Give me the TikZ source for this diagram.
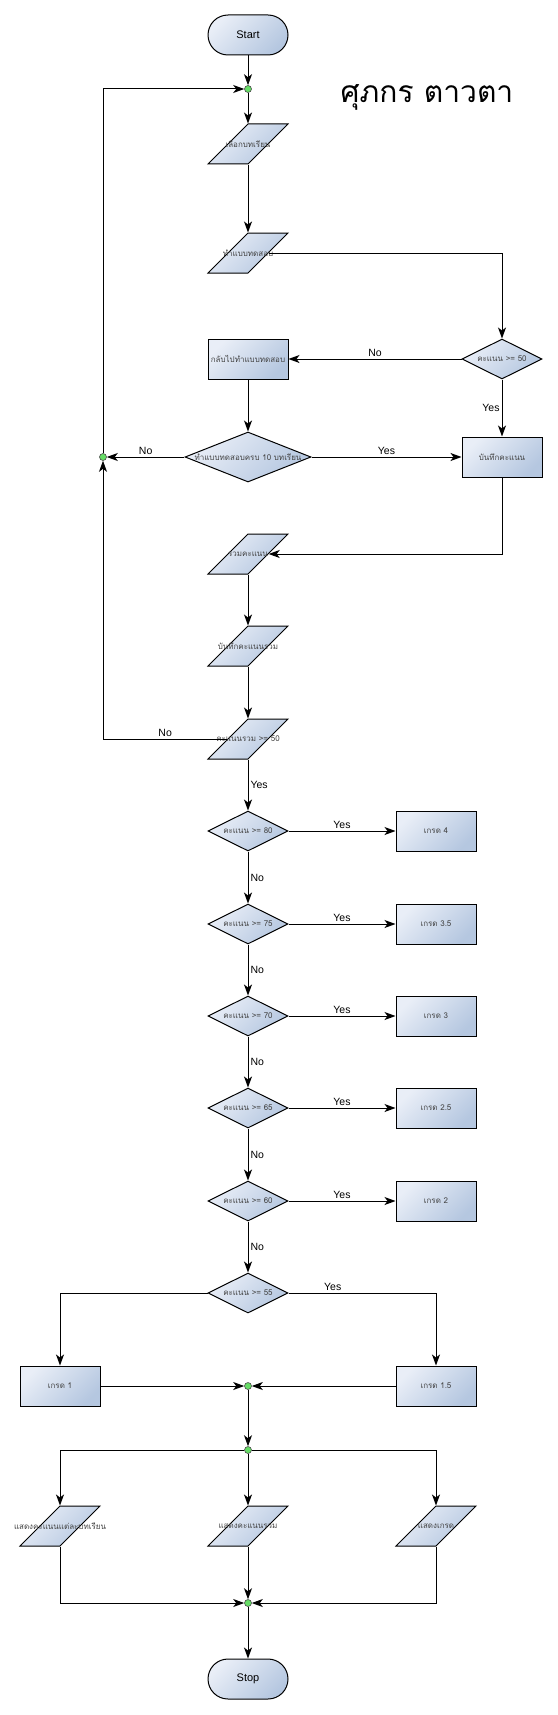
\documentclass[tikz,border=0pt]{standalone}
\usepackage{fontspec}
\setmainfont{Liberation Sans}
\newfontfamily\thaifont[Script=Thai]{Loma}
\usepackage{tikz}
\usetikzlibrary{arrows.meta,positioning,shapes.geometric}
\definecolor{boxL}{HTML}{E9EEF7}
\definecolor{boxD}{HTML}{B5C7E0}
\definecolor{dotG}{HTML}{66DD66}
\definecolor{txtG}{HTML}{444444}
% text that may run past its shape
\newcommand{\zw}[1]{\makebox[0pt]{#1}}
\tikzset{
  base/.style={draw, line width=1pt, top color=boxL, bottom color=boxD, shading angle=45,
    inner sep=0pt, font=\thaifont\fontsize{8}{8}\selectfont, text=txtG},
  term/.style={base, rectangle, rounded corners=20pt, minimum width=80pt, minimum height=40pt,
    font=\fontsize{11}{11}\selectfont, text=black},
  proc/.style={base, rectangle, minimum width=80pt, minimum height=40pt},
  io/.style={base, trapezium, trapezium left angle=75, trapezium right angle=105,
    trapezium stretches, minimum width=80pt, minimum height=40pt},
  dec/.style={base, diamond, aspect=2, minimum width=80pt, minimum height=40pt},
  dot/.style={circle, draw=black!70, fill=dotG, line width=0.6pt, minimum size=7pt, inner sep=0pt},
  lbl/.style={font=\fontsize{10.5}{10.5}\selectfont, inner sep=2pt},
  flow/.style={line width=1pt, -{Stealth[length=11pt,width=8pt,inset=3pt]}}
}

\begin{document}
\begin{tikzpicture}[x=1pt, y=-1pt]
\useasboundingbox (0,0) rectangle (557,1715);
\node[font=\thaifont\fontsize{30}{30}\selectfont] (title) at (427,97) {ศุภกร ตาวตา};
% lessons loop
\node[term] (start) at (248,35) {Start};
\node[dot] (j1) at (248,89) {};
\node[io] (sel) at (248,144) {\zw{เลือกบทเรียน}};
\node[io] (test) at (248,253) {\zw{ทำแบบทดสอบ}};
\node[dec] (chk) at (502,359) {\zw{คะแนน >= 50}};
\node[proc] (back) at (248,359) {\zw{กลับไปทำแบบทดสอบ}};
\node[dec, minimum width=126pt, minimum height=50pt] (done) at (248,457) {\zw{ทำแบบทดสอบครบ 10 บทเรียน}};
\node[dot] (j2) at (103,457) {};
\node[proc] (save) at (502,457) {\zw{บันทึกคะแนน}};
\node[io] (sum) at (248,554) {\zw{รวมคะแนน}};
\node[io] (savesum) at (248,646) {\zw{บันทึกคะแนนรวม}};
\node[io] (total) at (248,739) {\zw{คะแนนรวม >= 50}};

\draw[flow] (start) -- (j1);
\draw[flow] (j1) -- (sel);
\draw[flow] (sel) -- (test);
\draw[flow] (test) -| (chk);
\draw[flow] (chk) -- node[lbl, above] {No} (back);
\draw[flow] (chk) -- node[lbl, left] {Yes} (save);
\draw[flow] (back) -- (done);
\draw[flow] (done) -- node[lbl, above] {No} (j2);
\draw[flow] (done) -- node[lbl, above] {Yes} (save);
\draw[flow] (save) |- (sum);
\draw[flow] (sum) -- (savesum);
\draw[flow] (savesum) -- (total);
\draw[flow] (total.west) -| node[lbl, pos=0.25, above] {No} (j2);
\draw[flow] (j2) |- (j1);

% grades
\foreach \i/\s/\y/\g in {1/80/831/4, 2/75/924/3.5, 3/70/1016/3, 4/65/1108/2.5, 5/60/1201/2} {
  \node[dec] (d\i) at (248,\y) {\zw{คะแนน >= \s}};
  \node[proc] (r\i) at (436,\y) {\zw{เกรด \g}};
  \draw[flow] (d\i) -- node[lbl, above] {Yes} (r\i);
}
\node[dec] (d6) at (248,1293) {\zw{คะแนน >= 55}};
\draw[flow] (total) -- node[lbl, right] {Yes} (d1);
\foreach \i [evaluate=\i as \j using int(\i+1)] in {1,...,5}
  \draw[flow] (d\i) -- node[lbl, right] {No} (d\j);

\node[proc] (gr1) at (60,1386) {\zw{เกรด 1}};
\node[proc] (gr15) at (436,1386) {\zw{เกรด 1.5}};
\node[dot] (j3) at (248,1386) {};
\node[dot] (j4) at (248,1450) {};
\draw[flow] (d6) -| (gr1);
\draw[flow] (d6) -| node[lbl, pos=0.15, above] {Yes} (gr15);
\draw[flow] (gr1) -- (j3);
\draw[flow] (gr15) -- (j3);
\draw[flow] (j3) -- (j4);

% output
\node[io] (o1) at (60,1526) {\zw{แสดงคะแนนแต่ละบทเรียน}};
\node[io] (o2) at (248,1526) {\zw{แสดงคะแนนรวม}};
\node[io] (o3) at (436,1526) {\zw{แสดงเกรด}};
\node[dot] (j5) at (248,1603) {};
\node[term] (stop) at (248,1679) {Stop};
\draw[flow] (j4) -| (o1);
\draw[flow] (j4) -- (o2);
\draw[flow] (j4) -| (o3);
\draw[flow] (o1) |- (j5);
\draw[flow] (o2) -- (j5);
\draw[flow] (o3) |- (j5);
\draw[flow] (j5) -- (stop);
\end{tikzpicture}
\end{document}
